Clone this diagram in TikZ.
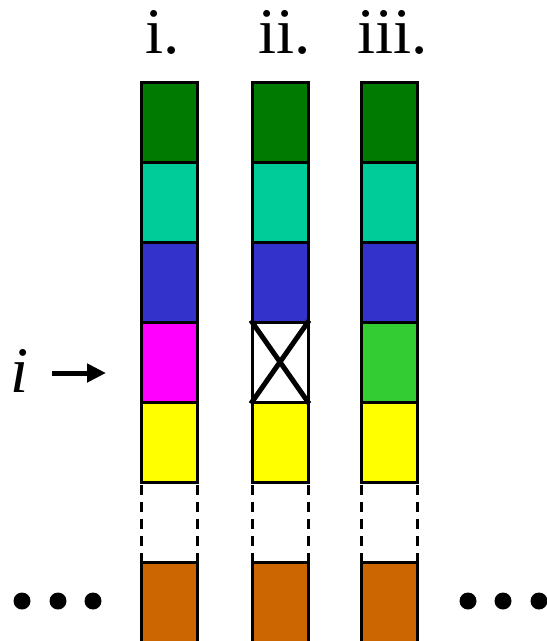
\documentclass[tikz,border=0pt]{standalone}
\usepackage{fontspec}
\setmainfont{Liberation Serif}
\usetikzlibrary{arrows.meta,positioning}
\definecolor{dkgreen}{HTML}{007A00}
\definecolor{aqua}{HTML}{00CC99}
\definecolor{blu}{HTML}{3333CC}
\definecolor{mag}{HTML}{FF00FF}
\definecolor{yel}{HTML}{FFFF00}
\definecolor{ltgreen}{HTML}{33CC33}
\definecolor{brn}{HTML}{CC6600}
\tikzset{cell/.style={draw,line width=3pt,minimum width=56pt,minimum height=80pt,inner sep=0pt,outer sep=0pt,anchor=north west},
  lbl/.style={font=\fontsize{65}{65}\selectfont,anchor=base,inner sep=0pt},
  dot/.style={circle,fill,inner sep=0pt,minimum size=17pt},
  arr/.style={-{Triangle[length=19pt,width=18pt]},line width=5pt},
  gap/.style={line width=3pt,dash pattern=on 10pt off 7pt,dash phase=-3pt}}

\begin{document}
\begin{tikzpicture}[x=1pt,y=-1pt]
\useasboundingbox (0,0) rectangle (547,641);
% three columns
\foreach \n/\x/\c/\t/\h in {1/141/mag/i./163,2/252/white/ii./285,3/361/ltgreen/iii./393}{
 \foreach \r/\f in {1/dkgreen,2/aqua,3/blu,4/\c,5/yel}{
  \node[cell,fill=\f] (c\n-\r) at (\x,82+80*\r-80) {};
 }
 \node[cell,fill=brn,minimum height=84pt] (c\n-6) at (\x,562) {};
 \draw[gap] (c\n-5.south west) -- (c\n-6.north west);
 \draw[gap] (c\n-5.south east) -- (c\n-6.north east);
 \node[lbl] (h\n) at (\h,53) {\t};
}
% removed entry
\draw[line width=5pt,shorten <=-2pt,shorten >=-2pt] (c2-4.north west) -- (c2-4.south east);
\draw[line width=5pt,shorten <=-2pt,shorten >=-2pt] (c2-4.south west) -- (c2-4.north east);
% position marker
\node[lbl,font=\fontsize{65}{65}\selectfont\itshape] (ipos) at (20,392) {i};
\coordinate (tail) at (52,373);
\coordinate (tip) at (106,373);
\draw[arr] (tail) -- (tip);
% ellipses
\foreach \k/\x in {1/22,2/58,3/93}{\node[dot] (l\k) at (\x,601) {};}
\foreach \k/\x in {1/468,2/503,3/539}{\node[dot] (r\k) at (\x,601) {};}
\end{tikzpicture}
\end{document}
